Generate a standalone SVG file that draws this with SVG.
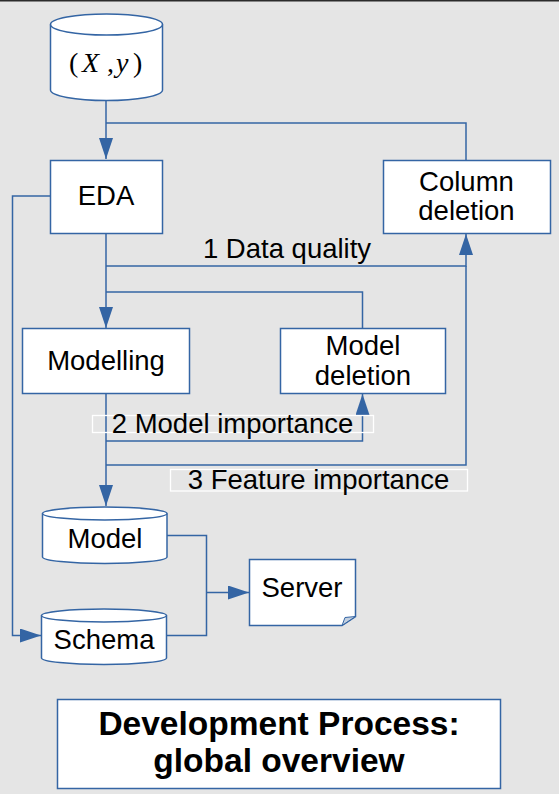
<svg xmlns="http://www.w3.org/2000/svg" width="559" height="794" viewBox="0 0 559 794">
<style>
.shape{fill:#fff;stroke:#3465a4;stroke-width:1.5}
.conn{fill:none;stroke:#3465a4;stroke-width:1.5}
.t{font-family:"Liberation Sans",Arial,sans-serif;font-size:27.5px;fill:#000;text-anchor:middle}
.lbl{fill:none;stroke:#fff;stroke-width:1.3}
.m{font-family:"Liberation Serif","Times New Roman",serif;font-size:28px;fill:#000}
.title{font-family:"Liberation Sans",Arial,sans-serif;font-size:33.5px;font-weight:bold;fill:#000;text-anchor:middle}
</style>
<defs>
<marker id="arr" markerUnits="userSpaceOnUse" markerWidth="22" markerHeight="14" refX="21" refY="7" orient="auto">
<path d="M0,0 L21,7 L0,14 Z" fill="#3465a4"/>
</marker>
</defs>
<rect x="0" y="0" width="559" height="794" fill="#e5e5e5"/>
<rect x="0" y="0" width="559" height="1.5" fill="#2b2b2b"/>

<g id="connectors">
<path class="conn" d="M106,101 V159" marker-end="url(#arr)"/>
<path class="conn" d="M466,160.5 V123 H106"/>
<path class="conn" d="M50.5,196 H12.5 V635.5 H41" marker-end="url(#arr)"/>
<path class="conn" d="M106,233.5 V328" marker-end="url(#arr)"/>
<path class="conn" d="M106,266 H466 V234" marker-end="url(#arr)"/>
<path class="conn" d="M362.5,328.5 V292 H106"/>
<path class="conn" d="M106,393.5 V506" marker-end="url(#arr)"/>
<path class="conn" d="M106,441 H362.5 V394" marker-end="url(#arr)"/>
<path class="conn" d="M106,465 H466 V266"/>
<path class="conn" d="M167,535.5 H206.5 V635.5 H166.5"/>
<path class="conn" d="M206.5,592.5 H249" marker-end="url(#arr)"/>
<text class="t" x="287" y="258">1 Data quality</text>
<rect class="lbl" x="92.5" y="415.5" width="281" height="17"/>
<text class="t" x="232.5" y="433">2 Model importance</text>
<rect class="lbl" x="170.5" y="469.5" width="297" height="21.5"/>
<text class="t" x="318.5" y="489">3 Feature importance</text>
</g>

<g id="data">
<path class="shape" d="M50.5,24.5 A56,10.5 0 0 1 162.5,24.5 V90 A56,10.5 0 0 1 50.5,90 Z"/>
<path class="conn" d="M50.5,24.5 A56,10.5 0 0 0 162.5,24.5"/>
<text class="m" y="72"><tspan x="69">(</tspan><tspan x="82" font-style="italic">X</tspan><tspan x="107">,</tspan><tspan x="116" font-style="italic">y</tspan><tspan x="133">)</tspan></text>
</g>

<g id="eda">
<rect class="shape" x="50.5" y="160.5" width="112" height="73"/>
<text class="t" x="106" y="205">EDA</text>
</g>

<g id="column-deletion">
<rect class="shape" x="383.5" y="160.5" width="167" height="73"/>
<text class="t" x="466.5" y="191">Column</text>
<text class="t" x="466.5" y="220">deletion</text>
</g>

<g id="modelling">
<rect class="shape" x="22.5" y="328.5" width="167" height="65"/>
<text class="t" x="106" y="370">Modelling</text>
</g>

<g id="model-deletion">
<rect class="shape" x="280.5" y="328.5" width="165" height="65"/>
<text class="t" x="363" y="355">Model</text>
<text class="t" x="363" y="385">deletion</text>
</g>

<g id="model">
<path class="shape" d="M42.5,513.5 A62.25,6.5 0 0 1 167,513.5 V557 A62.25,6.5 0 0 1 42.5,557 Z"/>
<path class="conn" d="M42.5,513.5 A62.25,6.5 0 0 0 167,513.5"/>
<text class="t" x="105" y="548">Model</text>
</g>

<g id="schema">
<path class="shape" d="M41.5,615.5 A62.5,6.5 0 0 1 166.5,615.5 V658 A62.5,6.5 0 0 1 41.5,658 Z"/>
<path class="conn" d="M41.5,615.5 A62.5,6.5 0 0 0 166.5,615.5"/>
<text class="t" x="104" y="648.5">Schema</text>
</g>

<g id="server">
<path class="shape" d="M249.5,559.5 H355.5 V616.5 L342,625.5 H249.5 Z"/>
<path d="M342,625.5 L355.5,616.5 L345,617.5 Z" fill="#c3d0e0" stroke="#3465a4" stroke-width="1"/>
<text class="t" x="302" y="597">Server</text>
</g>

<g id="title">
<rect class="shape" x="57.5" y="699.5" width="443" height="89"/>
<text class="title" x="279" y="735">Development Process:</text>
<text class="title" x="279" y="771.5">global overview</text>
</g>
</svg>
